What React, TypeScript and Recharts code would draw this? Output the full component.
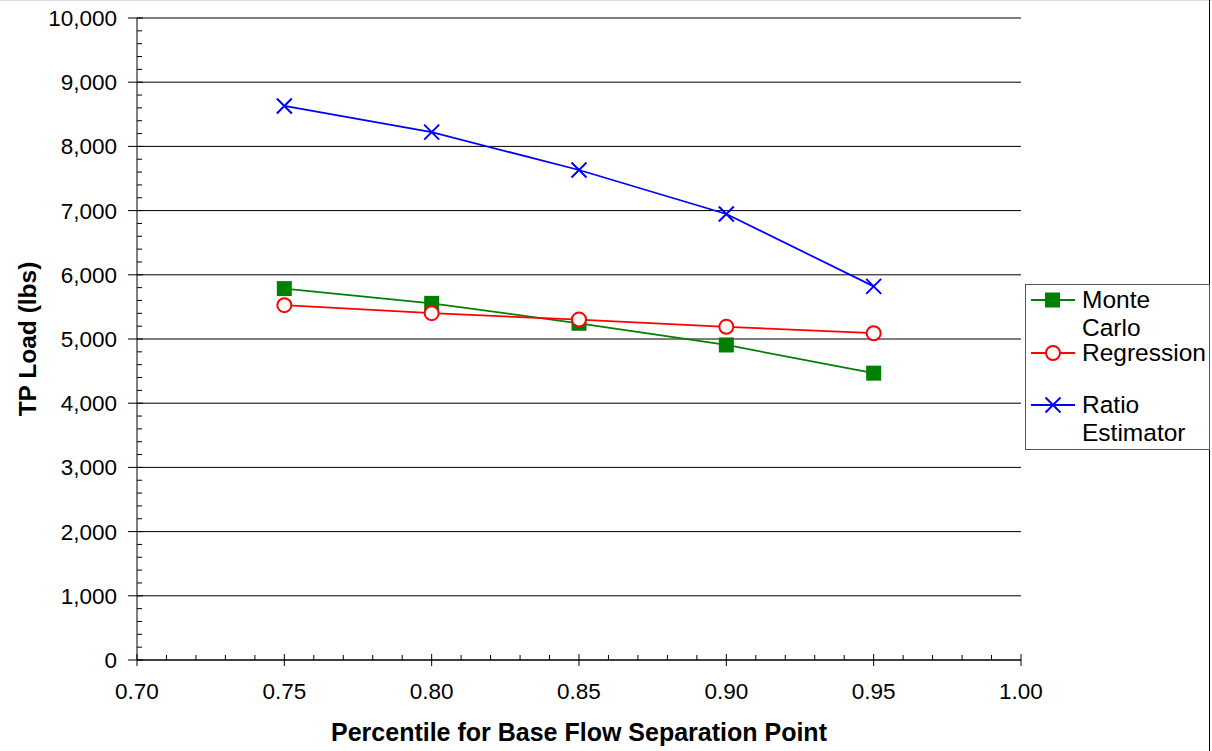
import { LineChart, Line, XAxis, YAxis, CartesianGrid } from "recharts";

const percentiles = [0.75, 0.8, 0.85, 0.9, 0.95];
const monteCarlo = [5785, 5555, 5245, 4907, 4468];
const regression = [5527, 5402, 5302, 5190, 5090];
const ratioEstimator = [8630, 8222, 7632, 6947, 5820];

const xMajorTicks = [0.7, 0.75, 0.8, 0.85, 0.9, 0.95, 1.0];
const yMajorTicks = [0, 1000, 2000, 3000, 4000, 5000, 6000, 7000, 8000, 9000, 10000];

// minor tick marks between the labelled ones
const xTicks = Array.from({ length: 31 }, (_, i) => +(0.7 + i * 0.01).toFixed(2));
const yTicks = Array.from({ length: 51 }, (_, i) => i * 200);

const data = percentiles.map((p, i) => ({
  p,
  monte: monteCarlo[i],
  regression: regression[i],
  ratio: ratioEstimator[i],
}));

const FONT = "'Liberation Sans', Arial, sans-serif";
const GREEN = "#008000";
const RED = "#ff0000";
const BLUE = "#0000ff";

const isMajorX = (v: number) => xMajorTicks.some((t) => Math.abs(t - v) < 1e-6);

const XTick = (props: any) => {
  const { x, y, payload } = props;
  const major = isMajorX(payload.value);
  return (
    <g>
      {major ? (
        <line x1={x} x2={x} y1={y - 6} y2={y + 6} stroke="#000" />
      ) : (
        <line x1={x} x2={x} y1={y - 5} y2={y} stroke="#000" />
      )}
      {major && (
        <text x={x} y={y + 39} textAnchor="middle" fontSize={22.5} fontFamily={FONT} fill="#000">
          {payload.value.toFixed(2)}
        </text>
      )}
    </g>
  );
};

const YTick = (props: any) => {
  const { x, y, payload } = props;
  const major = yMajorTicks.includes(payload.value);
  return (
    <g>
      {major ? (
        <line x1={x - 9} x2={x + 6} y1={y} y2={y} stroke="#000" />
      ) : (
        <line x1={x} x2={x + 5} y1={y} y2={y} stroke="#000" />
      )}
      {major && (
        <text x={x - 20} y={y + 8} textAnchor="end" fontSize={22.5} fontFamily={FONT} fill="#000">
          {payload.value.toLocaleString("en-US")}
        </text>
      )}
    </g>
  );
};

const SquareDot = (props: any) => {
  const { cx, cy, index } = props;
  return <rect key={`sq-${index}`} x={cx - 7.5} y={cy - 7.5} width={15} height={15} fill={GREEN} />;
};

const CircleDot = (props: any) => {
  const { cx, cy, index } = props;
  return <circle key={`ci-${index}`} cx={cx} cy={cy} r={7} fill="#fff" stroke={RED} strokeWidth={2} />;
};

const CrossDot = (props: any) => {
  const { cx, cy, index } = props;
  return (
    <path
      key={`x-${index}`}
      d={`M${cx - 7.5},${cy - 7.5}L${cx + 7.5},${cy + 7.5}M${cx - 7.5},${cy + 7.5}L${cx + 7.5},${cy - 7.5}`}
      stroke={BLUE}
      strokeWidth={2}
      fill="none"
    />
  );
};

const legendItems = [
  { name: "Monte Carlo", color: GREEN, kind: "square", top: 286 },
  { name: "Regression", color: RED, kind: "circle", top: 339 },
  { name: "Ratio Estimator", color: BLUE, kind: "cross", top: 391 },
];

const LegendMarker = ({ color, kind }: { color: string; kind: string }) => (
  <svg width={44} height={28} style={{ position: "absolute", left: 1031, top: 0 }}>
    <line x1={0} x2={44} y1={14} y2={14} stroke={color} strokeWidth={2} />
    {kind === "square" && <rect x={14} y={6.5} width={15} height={15} fill={color} />}
    {kind === "circle" && <circle cx={22} cy={14} r={7} fill="#fff" stroke={color} strokeWidth={2} />}
    {kind === "cross" && (
      <path d="M14.5,6.5L29.5,21.5M14.5,21.5L29.5,6.5" stroke={color} strokeWidth={2} />
    )}
  </svg>
);

export default function App() {
  return (
    <div style={{ position: "absolute", left: 0, top: 0, width: 1212, height: 751, background: "#fff" }}>
      <LineChart
        width={1212}
        height={751}
        data={data}
        margin={{ top: 18, right: 191, bottom: 0, left: 0 }}
      >
        <CartesianGrid
          horizontal
          vertical={false}
          horizontalValues={yMajorTicks}
          stroke="#000"
          strokeWidth={1}
        />
        <XAxis
          dataKey="p"
          type="number"
          domain={[0.7, 1.0]}
          ticks={xTicks}
          interval={0}
          height={91}
          tickSize={0}
          tickMargin={0}
          tick={<XTick />}
          axisLine={{ stroke: "#000" }}
          tickLine={false}
          label={{
            content: () => (
              <text
                x={579}
                y={741}
                textAnchor="middle"
                fontSize={25}
                fontWeight="bold"
                fontFamily={FONT}
                fill="#000"
              >
                Percentile for Base Flow Separation Point
              </text>
            ),
          }}
        />
        <YAxis
          type="number"
          domain={[0, 10000]}
          ticks={yTicks}
          interval={0}
          width={137}
          tickSize={0}
          tickMargin={0}
          tick={<YTick />}
          axisLine={{ stroke: "#000" }}
          tickLine={false}
          label={{
            content: () => (
              <text
                x={36}
                y={339}
                transform="rotate(-90 36 339)"
                textAnchor="middle"
                fontSize={24.5}
                fontWeight="bold"
                fontFamily={FONT}
                fill="#000"
              >
                TP Load (lbs)
              </text>
            ),
          }}
        />
        <Line
          dataKey="monte"
          name="Monte Carlo"
          stroke={GREEN}
          strokeWidth={1.75}
          dot={SquareDot}
          isAnimationActive={false}
        />
        <Line
          dataKey="regression"
          name="Regression"
          stroke={RED}
          strokeWidth={1.75}
          dot={CircleDot}
          isAnimationActive={false}
        />
        <Line
          dataKey="ratio"
          name="Ratio Estimator"
          stroke={BLUE}
          strokeWidth={1.75}
          dot={CrossDot}
          isAnimationActive={false}
        />
      </LineChart>

      {/* outer frame edges */}
      <div style={{ position: "absolute", left: 0, top: 0, width: 1212, height: 1, background: "#d9d9d9" }} />
      <div style={{ position: "absolute", left: 1209, top: 0, width: 1, height: 751, background: "#000" }} />

      {/* legend */}
      <div
        style={{
          position: "absolute",
          left: 1025,
          top: 284,
          width: 185,
          height: 166,
          border: "1px solid #555",
          boxSizing: "border-box",
          background: "#fff",
        }}
      />
      {legendItems.map((item) => (
        <div key={item.name} style={{ position: "absolute", left: 0, top: item.top, width: 1212 }}>
          <LegendMarker color={item.color} kind={item.kind} />
          <div
            style={{
              position: "absolute",
              left: 1082,
              top: 0,
              width: 126,
              fontFamily: FONT,
              fontSize: 24.5,
              lineHeight: "28px",
              color: "#000",
            }}
          >
            {item.name}
          </div>
        </div>
      ))}
    </div>
  );
}
